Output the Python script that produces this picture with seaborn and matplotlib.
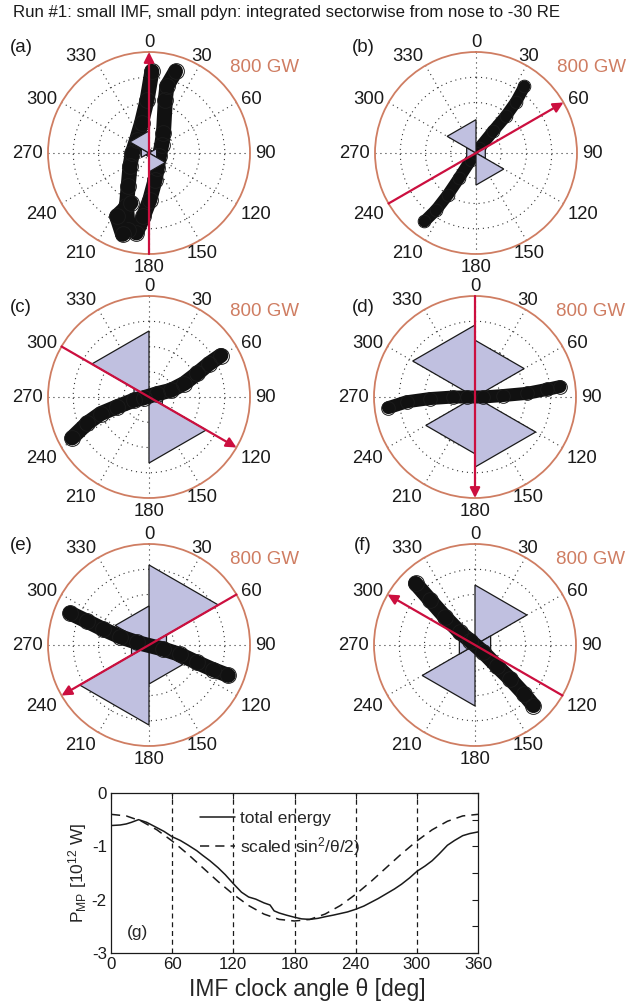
import numpy as np
import matplotlib
matplotlib.use("Agg")
import matplotlib.pyplot as plt
import seaborn as sns
import pandas as pd

sns.set_theme(style="white")
plt.rcParams["font.family"] = ["Liberation Sans", "DejaVu Sans"]
plt.rcParams["mathtext.fontset"] = "custom"
plt.rcParams["mathtext.rm"] = "Liberation Sans"
plt.rcParams["mathtext.it"] = "Liberation Sans:italic"
plt.rcParams["axes.unicode_minus"] = False

# ---------------------------------------------------------------- data
TITLE = "Run #1: small IMF, small pdyn: integrated sectorwise from nose to -30 RE"
panel_labels = ["(a)", "(b)", "(c)", "(d)", "(e)", "(f)"]
imf_angle = [0, 60, 120, 180, 240, 300]          # IMF clock angle of each run [deg]
sector_edges = [0, 60, 120, 180, 240, 300, 360]  # integration sectors [deg]
rmax_gw = 800
ring_gw = [200, 400, 600]
theta_ticks = list(range(0, 360, 30))

# sector-integrated power [GW] for sectors 0-60, 60-120, ..., 300-360
sector_a = [30, 70, 150, 30, 70, 175]
sector_b = [10, 85, 254, 10, 85, 264]
sector_c = [20, 122, 523, 20, 137, 523]
sector_d = [450, 40, 555, 450, 40, 570]
sector_e = [634, 160, 309, 634, 160, 309]
sector_f = [475, 143, 15, 483, 143, 15]

# local power samples (angle [deg], power [GW]) along each scatter band
band_a1_ang = [18, 15, 17, 36, 57, 108, 151, 167, 179, 185, 189]
band_a1_pow = [680, 547, 443, 195, 120, 86, 136, 217, 370, 504, 641]
band_a2_ang = [2, -2, -14, -43, -90, -125, -148, -157, -165]
band_a2_pow = [647, 423, 245, 144, 132, 184, 311, 458, 629]
band_a3_ang = [200, 207, 198]
band_a3_pow = [420, 563, 678]
band_b_ang = [217, 215, 214, 214, 217, 0, 34, 38, 39, 38, 36]
band_b_pow = [679, 550, 399, 238, 66, 0, 47, 217, 375, 517, 652]
band_c_ang = [242, 247, 251, 253, 258, 262, 68, 73, 69, 64, 61, 60]
band_c_pow = [691, 532, 405, 263, 122, 40, 71, 180, 297, 425, 544, 657]
band_d_ang = [263, 266, 268, 270, 270, 90, 87, 86, 84, 83]
band_d_pow = [691, 543, 357, 172, 66, 66, 225, 410, 571, 678]
band_e_ang = [292, 291, 289, 286, 282, 106, 107, 110, 111, 111]
band_e_pow = [674, 530, 383, 239, 100, 118, 257, 402, 544, 673]
band_f_ang = [316, 315, 313, 310, 311, 131, 134, 134, 135, 136]
band_f_pow = [678, 500, 323, 156, 52, 88, 237, 387, 545, 667]

# panel (g): total magnetopause energy vs IMF clock angle
clock_deg = [0, 9, 15, 20, 27, 35, 45, 52, 60, 68, 75, 84, 90, 97, 105, 112, 120,
             128, 135, 142, 150, 156, 160, 165, 172, 180, 187, 195, 203, 210, 218,
             225, 232, 240, 248, 255, 262, 270, 278, 285, 293, 300, 308, 315, 322,
             330, 337, 345, 352, 360]
p_total = [-0.61, -0.60, -0.58, -0.55, -0.50, -0.55, -0.65, -0.72, -0.82, -0.89,
           -0.97, -1.08, -1.17, -1.27, -1.40, -1.53, -1.70, -1.86, -1.95, -1.99,
           -2.06, -2.10, -2.21, -2.25, -2.29, -2.33, -2.36, -2.37, -2.35, -2.32,
           -2.29, -2.26, -2.23, -2.18, -2.12, -2.05, -1.98, -1.89, -1.80, -1.71,
           -1.59, -1.47, -1.37, -1.27, -1.14, -0.98, -0.89, -0.80, -0.76, -0.73]
scaled_deg = [0, 15, 30, 45, 60, 75, 90, 105, 120, 135, 150, 165, 180,
              195, 210, 225, 240, 255, 270, 285, 300, 315, 330, 345, 360]
p_scaled = [-0.40, -0.43, -0.53, -0.69, -0.90, -1.14, -1.40, -1.66, -1.90, -2.11,
            -2.27, -2.37, -2.40, -2.37, -2.27, -2.11, -1.90, -1.66, -1.40, -1.14,
            -0.90, -0.69, -0.53, -0.43, -0.40]
vline_deg = [60, 120, 180, 240, 300]

sectors = [sector_a, sector_b, sector_c, sector_d, sector_e, sector_f]
bands = [
    [(band_a1_ang, band_a1_pow), (band_a2_ang, band_a2_pow), (band_a3_ang, band_a3_pow)],
    [(band_b_ang, band_b_pow)],
    [(band_c_ang, band_c_pow)],
    [(band_d_ang, band_d_pow)],
    [(band_e_ang, band_e_pow)],
    [(band_f_ang, band_f_pow)],
]

# ---------------------------------------------------------------- style
RIM = "#cf7d62"
ARROW = "#cc0f3f"
FILL = "#c0c0e0"
W, H = 632, 1006
R_PX = 101
centers = [(149, 153), (476, 153), (149, 397), (475, 397), (149, 645), (475, 645)]
letter_pos = [(21, 48), (363, 48), (21, 308), (363, 308), (21, 545), (363, 545)]
band_width_px = [15, 12, 15, 13, 15, 15]
wedges_on_top = [True, True, False, False, False, False]

label_align = {0: ("center", "baseline"), 30: ("center", "baseline"),
               60: ("left", "center"), 90: ("left", "center"),
               120: ("left", "top"), 150: ("center", "top"),
               180: ("center", "top"), 210: ("right", "top"),
               240: ("right", "top"), 270: ("right", "center"),
               300: ("right", "center"), 330: ("right", "baseline")}

fig = plt.figure(figsize=(W / 100, H / 100), dpi=100)
fig.patch.set_facecolor("white")


def fx(px):
    return px / W


def fy(py):
    return 1 - py / H


fig.text(fx(13), fy(12), TITLE, ha="left", va="center", fontsize=12.1, color="k")

for i, (cx, cy) in enumerate(centers):
    ax = fig.add_axes([fx(cx - R_PX), fy(cy + R_PX), 2 * R_PX / W, 2 * R_PX / H],
                      projection="polar")
    ax.set_theta_zero_location("N")
    ax.set_theta_direction(-1)
    ax.set_ylim(0, rmax_gw)
    ax.set_yticks(ring_gw)
    ax.set_yticklabels([])
    ax.set_xticks(np.deg2rad(theta_ticks))
    ax.set_xticklabels([])
    ax.tick_params(length=0)
    ax.set_facecolor("white")
    ax.grid(True, color="0.2", linestyle=(0, (1, 3.5)), linewidth=0.8)
    ax.spines["polar"].set_color(RIM)
    ax.spines["polar"].set_linewidth(1.3)

    z_wedge = 4 if wedges_on_top[i] else 2

    # sector wedges drawn as triangles from the origin
    vals = sectors[i]
    for k, p in enumerate(vals):
        a0, a1 = np.deg2rad(sector_edges[k]), np.deg2rad(sector_edges[k + 1])
        ax.fill([a0, a0, a1], [0, p, p], facecolor=FILL, edgecolor="k",
                linewidth=0.9, zorder=z_wedge)

    # local power scatter band
    lw_pt = band_width_px[i] / 1.389
    for ang, pw in bands[i]:
        th = np.deg2rad(ang)
        ax.plot(th, pw, color="#111111", linewidth=lw_pt, solid_capstyle="round",
                solid_joinstyle="round", zorder=3)
        ax.plot(th, pw, linestyle="none", marker="o", markersize=lw_pt * 1.05,
                markerfacecolor="none", markeredgecolor="k", markeredgewidth=0.7,
                zorder=3)

    # IMF direction arrow across the dial
    t_head = np.deg2rad(imf_angle[i])
    t_tail = np.deg2rad(imf_angle[i] + 180)
    ax.annotate("", xy=(t_head, rmax_gw), xytext=(t_tail, rmax_gw),
                xycoords="data", textcoords="data",
                arrowprops=dict(arrowstyle="-|>", color=ARROW, lw=1.6,
                                mutation_scale=15, shrinkA=0, shrinkB=0),
                zorder=5, annotation_clip=False)

    # angle labels around the rim
    for t in theta_ticks:
        ha, va = label_align[t]
        ax.text(np.deg2rad(t), rmax_gw * 1.05, str(t), ha=ha, va=va,
                fontsize=13.3, color="k", clip_on=False)

    ax.text(1.074, 0.921, f"{rmax_gw} GW", transform=ax.transAxes, ha="center",
            va="center", fontsize=13.5, color=RIM)

    lx, ly = letter_pos[i]
    fig.text(fx(lx), fy(ly), panel_labels[i], ha="center", va="center",
             fontsize=13.5, color="k")

# ---------------------------------------------------------------- panel (g)
axg = fig.add_axes([fx(111), fy(953), 367 / W, 160 / H])
df_total = pd.DataFrame({"theta": clock_deg, "P": p_total})
df_scaled = pd.DataFrame({"theta": scaled_deg, "P": p_scaled})
for x in vline_deg:
    axg.axvline(x, color="k", linestyle=(0, (4, 3)), linewidth=0.9, zorder=1)
sns.lineplot(data=df_total, x="theta", y="P", ax=axg, color="k", linewidth=1.1,
             estimator=None, sort=False, label="total energy")
sns.lineplot(data=df_scaled, x="theta", y="P", ax=axg, color="k", linewidth=1.1,
             estimator=None, sort=False, linestyle=(0, (6, 4)),
             label=r"scaled sin$^2$/θ/2)")
axg.set_xlim(0, 360)
axg.set_ylim(-3, 0)
axg.set_xticks([0, 60, 120, 180, 240, 300, 360])
axg.set_yticks([0, -1, -2, -3])
axg.set_yticks([-0.5, -1.5, -2.5], minor=True)
axg.tick_params(which="both", direction="in", top=True, right=True, length=4,
                width=0.8, labelsize=12.2, pad=3, colors="k")
for s in axg.spines.values():
    s.set_color("k")
    s.set_linewidth(0.9)
axg.set_xlabel("IMF clock angle θ [deg]", fontsize=16.5)
axg.xaxis.set_label_coords(0.534, -0.228, transform=axg.transAxes)
axg.xaxis.label.set_va("center")
axg.set_ylabel(r"P$_\mathrm{MP}$ [10$^{12}$ W]", fontsize=12.5, labelpad=2)
axg.text(0.071, 0.125, "(g)", transform=axg.transAxes, ha="center", va="center",
         fontsize=12.5)
axg.legend(loc="upper left", bbox_to_anchor=(0.2425, 0.886), frameon=False,
           fontsize=12.5, handlelength=2.0, handletextpad=0.3, borderpad=0,
           borderaxespad=0, labelspacing=0.5)

fig.savefig("out.png", dpi=100, facecolor="white")
